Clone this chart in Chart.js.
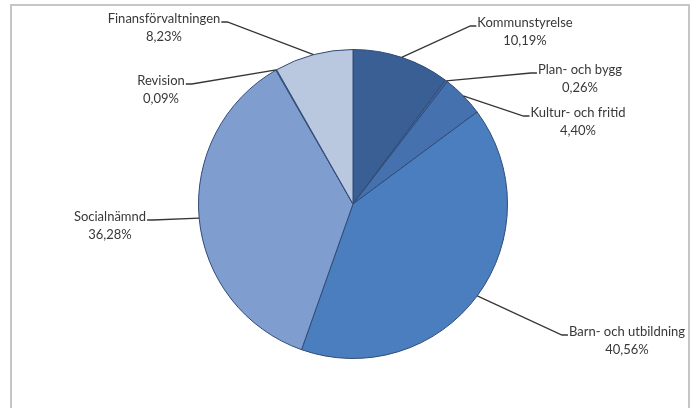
<!DOCTYPE html>
<html>
<head>
<meta charset="utf-8">
<script src="https://cdn.jsdelivr.net/npm/chart.js@4.4.0/dist/chart.umd.min.js"></script>
<style>
    html, body { margin: 0; padding: 0; background: #fff; overflow: hidden; }
    #wrap { position: relative; width: 697px; height: 408px; }
    #frame {
        position: absolute; left: 10px; top: 4px; width: 680px; height: 420px;
        border: 2px solid #c6c6c6; box-sizing: border-box;
    }
    canvas { position: absolute; left: 0; top: 0; }
</style>
</head>
<body>
<div id="wrap">
    <div id="frame"></div>
    <canvas id="chart" width="697" height="408"></canvas>
</div>
<script>
    // Andel per nämnd (%), medurs från kl. 12
    const categories = [
        'Kommunstyrelse',
        'Plan- och bygg',
        'Kultur- och fritid',
        'Barn- och utbildning',
        'Socialnämnd',
        'Revision',
        'Finansförvaltningen'
    ];
    const shares = [10.19, 0.26, 4.40, 40.56, 36.28, 0.09, 8.23];

    const sliceColors = ['#3a5f95', '#3d66a2', '#4571ae', '#4a7ebf', '#7f9dcf', '#a8bbdd', '#b9c7df'];

    // Etikettens placering (mitten av namnraden) relativt tårtans mittpunkt
    const labelOffsets = [
        [172, -181],
        [227, -134],
        [225, -91],
        [274, 128],
        [-243, 13],
        [-192, -123],
        [-189, -185]
    ];

    const fmt = v => v.toFixed(2).replace('.', ',') + '%';

    const leaderLabels = {
        id: 'leaderLabels',
        afterDatasetsDraw(chart) {
            const ctx = chart.ctx;
            const arcs = chart.getDatasetMeta(0).data;
            ctx.save();
            ctx.font = '13px Lato';
            ctx.textAlign = 'center';
            ctx.textBaseline = 'middle';
            arcs.forEach((arc, i) => {
                const p = arc.getProps(['x', 'y', 'startAngle', 'endAngle', 'outerRadius'], true);
                const mid = (p.startAngle + p.endAngle) / 2;
                const ax = p.x + Math.cos(mid) * p.outerRadius;
                const ay = p.y + Math.sin(mid) * p.outerRadius;
                const tx = p.x + labelOffsets[i][0];
                const ty = p.y + labelOffsets[i][1];
                const w = ctx.measureText(categories[i]).width;
                const toRight = tx < p.x;
                const edge = toRight ? tx + w / 2 + 1 : tx - w / 2 - 1;
                const elbow = toRight ? edge + 6 : edge - 6;
                const ly = ty + 3;

                ctx.strokeStyle = '#363636';
                ctx.lineWidth = 1.3;
                ctx.beginPath();
                ctx.moveTo(ax, ay);
                ctx.lineTo(elbow, ly);
                ctx.lineTo(edge, ly);
                ctx.stroke();

                ctx.fillStyle = '#383838';
                ctx.fillText(categories[i], tx, ty);
                ctx.fillText(fmt(shares[i]), tx, ty + 18);
            });
            ctx.restore();
        }
    };

    new Chart(document.getElementById('chart').getContext('2d'), {
        type: 'pie',
        data: {
            labels: categories,
            datasets: [{
                data: shares,
                backgroundColor: sliceColors,
                borderColor: '#2f4b76',
                borderWidth: 1
            }]
        },
        options: {
            responsive: false,
            animation: false,
            layout: {
                padding: { left: 198, right: 189, top: 49, bottom: 49 }
            },
            plugins: {
                legend: { display: false },
                tooltip: { enabled: false }
            }
        },
        plugins: [leaderLabels]
    });
</script>
</body>
</html>
